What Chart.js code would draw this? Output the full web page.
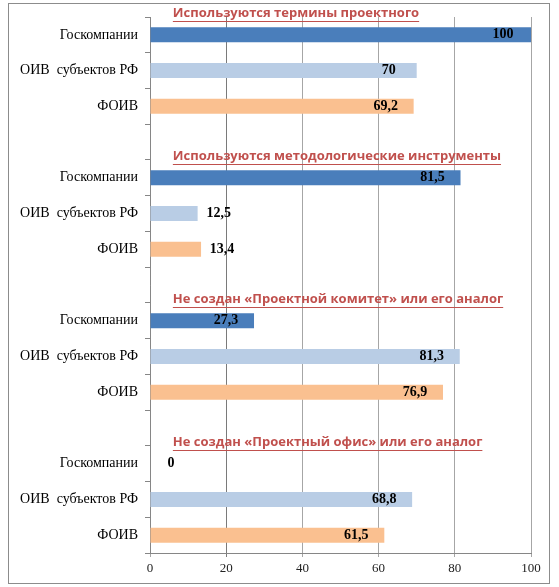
<!DOCTYPE html>
<html>
<head>
<meta charset="utf-8">
<script src="https://cdn.jsdelivr.net/npm/chart.js@4"></script>
<style>
  body { margin: 0; background: #fff; }
  #frame { position: absolute; left: 8px; top: 3px; width: 540px; height: 579px; border: 1px solid #8c8c8c; }
  #wrap { position: absolute; left: 0; top: 0; width: 559px; height: 587px; }
</style>
</head>
<body>
<div id="frame"></div>
<div id="wrap"><canvas id="barChart"></canvas></div>
<script>
// данные
var groupTitles = [
  'Используются термины проектного',
  'Используются методологические инструменты',
  'Не создан «Проектной комитет» или его аналог',
  'Не создан «Проектный офис» или его аналог'
];
var orgs = ['Госкомпании', 'ОИВ  субъектов РФ', 'ФОИВ'];
var goskomp = [100, 81.5, 27.3, 0];
var oivRF = [70, 12.5, 81.3, 68.8];
var foiv = [69.2, 13.4, 76.9, 61.5];
var xTicks = [0, 20, 40, 60, 80, 100];

var colors = ['#4a7ebb', '#b9cde5', '#fac090'];

// строим строки: 3 организации + пустая строка между группами
var labels = [];
var series = [[], [], []];
var titleRows = [];
for (var g = 0; g < groupTitles.length; g++) {
  if (g > 0) {
    labels.push('');
    series.forEach(function(s){ s.push(null); });
  }
  titleRows.push(labels.length);
  var vals = [goskomp[g], oivRF[g], foiv[g]];
  for (var k = 0; k < 3; k++) {
    labels.push(orgs[k]);
    for (var d = 0; d < 3; d++) series[d].push(d == k ? vals[k] : null);
  }
}

// подписи значений и заголовки групп
var extras = {
  id: 'extras',
  afterDatasetsDraw: function(chart) {
    var ctx = chart.ctx;
    var y = chart.scales.y, x = chart.scales.x;
    ctx.save();
    ctx.font = 'bold 14px "Liberation Serif"';
    ctx.fillStyle = '#000';
    ctx.textAlign = 'center';
    ctx.textBaseline = 'middle';
    chart.data.datasets.forEach(function(ds, i) {
      chart.getDatasetMeta(i).data.forEach(function(bar, j) {
        var v = ds.data[j];
        if (v === null) return;
        var px = v < 20 ? bar.x + 21 : bar.x - 28;
        ctx.fillText(String(v).replace('.', ','), px, bar.y);
      });
    });

    var rowH = y.getPixelForValue(1) - y.getPixelForValue(0);
    ctx.font = 'bold 13px "Open Sans"';
    ctx.fillStyle = '#c0504d';
    ctx.strokeStyle = '#c0504d';
    ctx.lineWidth = 1;
    ctx.textAlign = 'left';
    titleRows.forEach(function(r, g) {
      var ty = y.getPixelForValue(r) - rowH / 2 - 4;
      var tx = x.getPixelForValue(6);
      ctx.fillText(groupTitles[g], tx, ty);
      var w = ctx.measureText(groupTitles[g]).width;
      ctx.beginPath();
      ctx.moveTo(tx, Math.round(ty + 8) + 0.5);
      ctx.lineTo(tx + w, Math.round(ty + 8) + 0.5);
      ctx.stroke();
    });
    ctx.restore();
  }
};

var ctx = document.getElementById('barChart').getContext('2d');
var chart = new Chart(ctx, {
  type: 'bar',
  data: {
    labels: labels,
    datasets: series.map(function(s, i) {
      return { data: s, backgroundColor: colors[i], barPercentage: 0.42, categoryPercentage: 1 };
    })
  },
  options: {
    indexAxis: 'y',
    responsive: true,
    maintainAspectRatio: false,
    animation: false,
    layout: { padding: { left: 0, right: 28, top: 17, bottom: 0 } },
    plugins: { legend: { display: false }, tooltip: { enabled: false } },
    scales: {
      x: {
        stacked: true,
        min: 0, max: 100,
        afterBuildTicks: function(scale) {
          scale.ticks = xTicks.map(function(v){ return { value: v }; });
        },
        afterFit: function(scale) { scale.height = 34; },
        grid: {
          color: function(c) { return c.tick && c.tick.value == 20 ? '#7a7a7a' : '#a6a6a6'; },
          tickLength: 4
        },
        border: { color: '#868686' },
        ticks: { color: '#222', font: { family: '"Liberation Serif"', size: 13 }, padding: 4 }
      },
      y: {
        stacked: true,
        afterFit: function(scale) { scale.width = 150; },
        grid: { drawOnChartArea: false, tickLength: 5, color: '#868686' },
        border: { color: '#868686' },
        ticks: { color: '#000', font: { family: '"Liberation Serif"', size: 14 }, padding: 7, autoSkip: false }
      }
    }
  },
  plugins: [extras]
});
</script>
</body>
</html>
